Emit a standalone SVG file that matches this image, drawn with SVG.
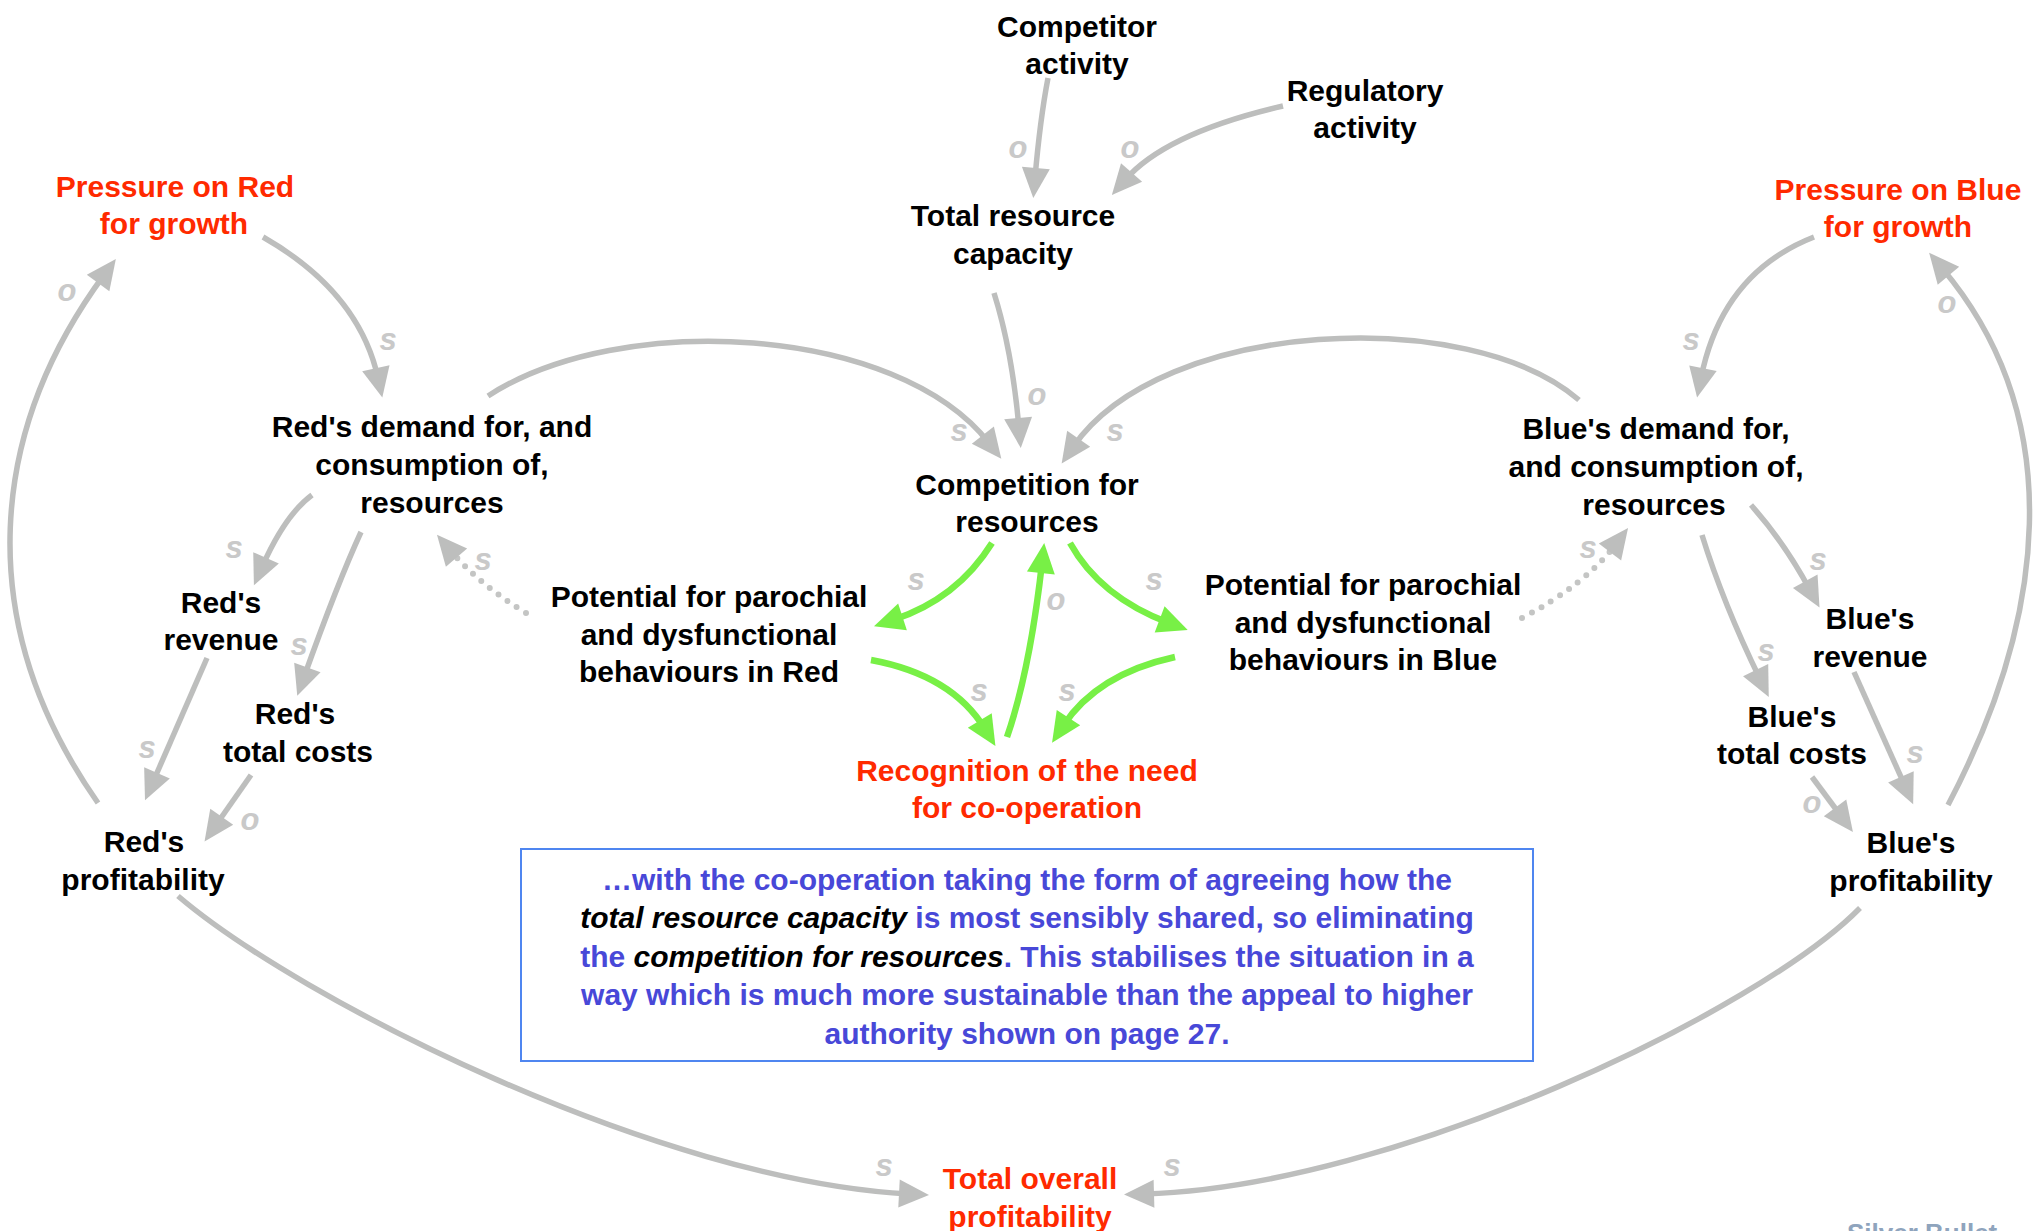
<svg xmlns="http://www.w3.org/2000/svg" width="2034" height="1231" viewBox="0 0 2034 1231">
  <style>
    text { font-family: "Liberation Sans", Arial, sans-serif; font-weight: bold; }
    .n { font-size: 30px; fill: #000; text-anchor: middle; }
    .r { font-size: 30px; fill: #ff2a00; text-anchor: middle; }
    .p { font-size: 31px; fill: #c9c9c9; font-style: italic; text-anchor: middle; }
    .box { font-size: 30px; fill: #4848d8; text-anchor: middle; }
    .em { fill: #000; font-style: italic; }
    .c { fill: none; stroke: #bdbebd; stroke-width: 5.5; marker-end: url(#ah); }
    .g { fill: none; stroke: #78f046; stroke-width: 6.5; marker-end: url(#ahg); }
    .d { fill: none; stroke: #c4c5c4; stroke-width: 6; stroke-linecap: round; stroke-dasharray: 0 11; marker-end: url(#ah); }
  </style>
  <defs>
    <marker id="ah" markerUnits="userSpaceOnUse" viewBox="0 0 32 28" markerWidth="32" markerHeight="28" refX="10" refY="14" orient="auto" overflow="visible">
      <path d="M0,0 L30,14 L0,28 z" fill="#bdbebd"/>
    </marker>
    <marker id="ahg" markerUnits="userSpaceOnUse" viewBox="0 0 32 28" markerWidth="32" markerHeight="28" refX="10" refY="14" orient="auto" overflow="visible">
      <path d="M0,0 L30,14 L0,28 z" fill="#78f046"/>
    </marker>
  </defs>
  <rect width="2034" height="1231" fill="#fff"/>

  <!-- links -->
  <g id="connectors">
    <path class="c" d="M1048,78 Q1040,120 1035,178"/>
    <path class="c" d="M1283,106 Q1166,133 1125,180"/>
    <path class="c" d="M994,293 Q1012,350 1019,428"/>
    <path class="c" d="M488,396 C620,310 897,325 989,443"/>
    <path class="c" d="M1579,400 C1470,305 1162,318 1073,447"/>
    <path class="c" d="M263,237 Q359,292 378,378"/>
    <path class="c" d="M98,803 C-30,620 -10,430 104,275"/>
    <path class="c" d="M312,495 Q285,515 262,567"/>
    <path class="c" d="M361,532 Q338,582 304,677"/>
    <path class="c" d="M207,658 L153,782"/>
    <path class="c" d="M251,775 L216,825"/>
    <path class="d" d="M526,613 Q480,585 450,550"/>
    <path class="g" d="M992,543 Q957,599 893,620"/>
    <path class="g" d="M1070,543 Q1100,597 1169,623"/>
    <path class="g" d="M871,660 Q952,675 985,729"/>
    <path class="g" d="M1175,657 Q1097,674 1063,726"/>
    <path class="g" d="M1007,737 Q1030,670 1042,563"/>
    <path class="c" d="M1814,237 Q1722,273 1701,378"/>
    <path class="c" d="M1948,805 C2045,620 2070,420 1942,268"/>
    <path class="c" d="M1751,505 Q1784,542 1810,590"/>
    <path class="c" d="M1702,535 Q1723,603 1760,679"/>
    <path class="c" d="M1854,672 L1905,786"/>
    <path class="c" d="M1812,777 L1841,816"/>
    <path class="d" d="M1522,618 Q1585,585 1616,544"/>
    <path class="c" d="M178,896 C300,1000 659,1181 909,1194"/>
    <path class="c" d="M1860,908 C1760,1010 1394,1187 1144,1194"/>
    <!-- polarity marks -->
    <text class="p" x="1018" y="158">o</text>
    <text class="p" x="1130" y="158">o</text>
    <text class="p" x="1037" y="405">o</text>
    <text class="p" x="959" y="441">s</text>
    <text class="p" x="1115" y="441">s</text>
    <text class="p" x="388" y="350">s</text>
    <text class="p" x="67" y="301">o</text>
    <text class="p" x="234" y="558">s</text>
    <text class="p" x="299" y="655">s</text>
    <text class="p" x="147" y="758">s</text>
    <text class="p" x="250" y="830">o</text>
    <text class="p" x="483" y="570">s</text>
    <text class="p" x="916" y="590">s</text>
    <text class="p" x="1154" y="590">s</text>
    <text class="p" x="979" y="701">s</text>
    <text class="p" x="1067" y="701">s</text>
    <text class="p" x="1056" y="610">o</text>
    <text class="p" x="1691" y="350">s</text>
    <text class="p" x="1947" y="313">o</text>
    <text class="p" x="1818" y="570">s</text>
    <text class="p" x="1766" y="661">s</text>
    <text class="p" x="1915" y="763">s</text>
    <text class="p" x="1812" y="813">o</text>
    <text class="p" x="1588" y="558">s</text>
    <text class="p" x="884" y="1176">s</text>
    <text class="p" x="1172" y="1176">s</text>
  </g>

  <g id="competitor-activity"><text class="n"><tspan x="1077" y="37">Competitor</tspan><tspan x="1077" y="74">activity</tspan></text></g>
  <g id="regulatory-activity"><text class="n"><tspan x="1365" y="101">Regulatory</tspan><tspan x="1365" y="138">activity</tspan></text></g>
  <g id="total-resource-capacity"><text class="n"><tspan x="1013" y="226">Total resource</tspan><tspan x="1013" y="264">capacity</tspan></text></g>
  <g id="pressure-red"><text class="r"><tspan x="175" y="197">Pressure on Red</tspan><tspan x="174" y="234">for growth</tspan></text></g>
  <g id="pressure-blue"><text class="r"><tspan x="1898" y="200">Pressure on Blue</tspan><tspan x="1898" y="237">for growth</tspan></text></g>
  <g id="red-demand"><text class="n"><tspan x="432" y="437">Red's demand for, and</tspan><tspan x="432" y="475">consumption of,</tspan><tspan x="432" y="513">resources</tspan></text></g>
  <g id="competition"><text class="n"><tspan x="1027" y="495">Competition for</tspan><tspan x="1027" y="532">resources</tspan></text></g>
  <g id="blue-demand"><text class="n"><tspan x="1656" y="439">Blue's demand for,</tspan><tspan x="1656" y="477">and consumption of,</tspan><tspan x="1654" y="515">resources</tspan></text></g>
  <g id="red-revenue"><text class="n"><tspan x="221" y="613">Red's</tspan><tspan x="221" y="650">revenue</tspan></text></g>
  <g id="red-costs"><text class="n"><tspan x="295" y="724">Red's</tspan><tspan x="298" y="762">total costs</tspan></text></g>
  <g id="red-profitability"><text class="n"><tspan x="144" y="852">Red's</tspan><tspan x="143" y="890">profitability</tspan></text></g>
  <g id="potential-red"><text class="n"><tspan x="709" y="607">Potential for parochial</tspan><tspan x="709" y="645">and dysfunctional</tspan><tspan x="709" y="682">behaviours in Red</tspan></text></g>
  <g id="potential-blue"><text class="n"><tspan x="1363" y="595">Potential for parochial</tspan><tspan x="1363" y="633">and dysfunctional</tspan><tspan x="1363" y="670">behaviours in Blue</tspan></text></g>
  <g id="recognition"><text class="r"><tspan x="1027" y="781">Recognition of the need</tspan><tspan x="1027" y="818">for co-operation</tspan></text></g>
  <g id="blue-revenue"><text class="n"><tspan x="1870" y="629">Blue's</tspan><tspan x="1870" y="667">revenue</tspan></text></g>
  <g id="blue-costs"><text class="n"><tspan x="1792" y="727">Blue's</tspan><tspan x="1792" y="764">total costs</tspan></text></g>
  <g id="blue-profitability"><text class="n"><tspan x="1911" y="853">Blue's</tspan><tspan x="1911" y="891">profitability</tspan></text></g>
  <g id="total-profitability"><text class="r"><tspan x="1030" y="1189">Total overall</tspan><tspan x="1030" y="1227">profitability</tspan></text></g>

  <g id="note">
    <rect x="521" y="849" width="1012" height="212" fill="#fff" stroke="#4f86f0" stroke-width="2"/>
    <text class="box" x="1027" y="890">…with the co-operation taking the form of agreeing how the</text>
    <text class="box" x="1027" y="928"><tspan class="em">total resource capacity</tspan> is most sensibly shared, so eliminating</text>
    <text class="box" x="1027" y="967">the <tspan class="em">competition for resources</tspan>. This stabilises the situation in a</text>
    <text class="box" x="1027" y="1005">way which is much more sustainable than the appeal to higher</text>
    <text class="box" x="1027" y="1044">authority shown on page 27.</text>
  </g>

  <text x="1847" y="1242" font-size="26" fill="#8fa4bd">Silver Bullet</text>
</svg>
